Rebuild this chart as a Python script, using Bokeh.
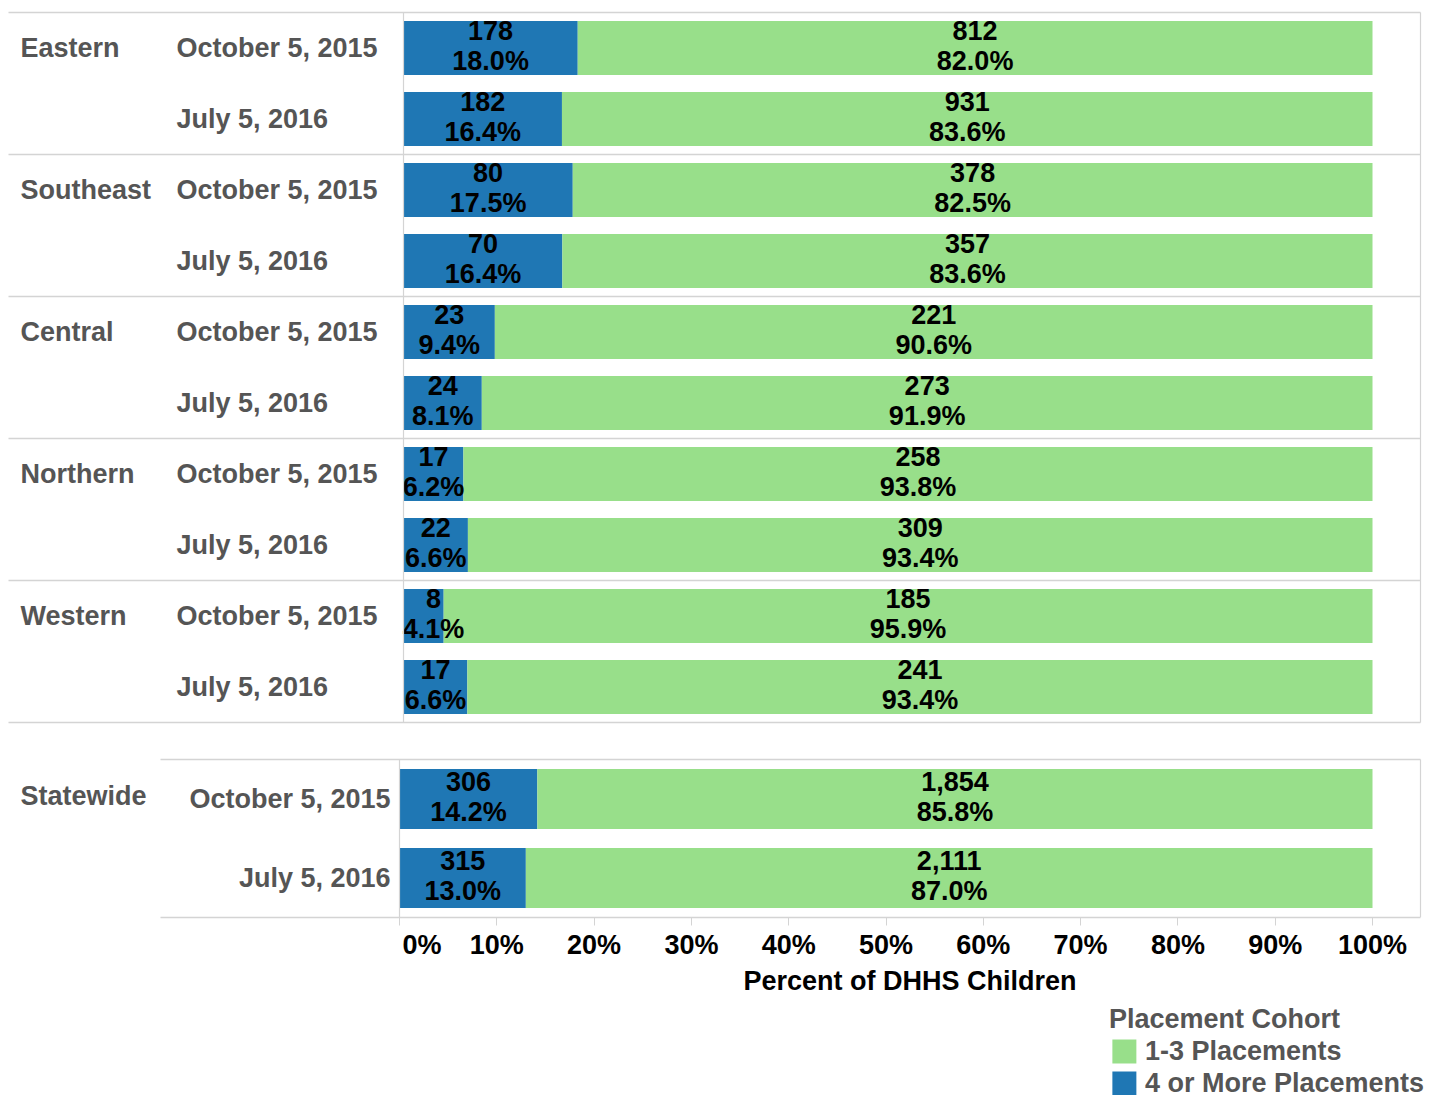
from bokeh.plotting import figure
from bokeh.models import (Range1d, FixedTicker, NumeralTickFormatter, Legend,
                          LegendItem, Title, ColumnDataSource)
from bokeh.layouts import column
from bokeh.embed import file_html
from bokeh.resources import INLINE
from bokeh.core.properties import value
import numpy as np

# ---------------- data ----------------
regions = ["Eastern", "Southeast", "Central", "Northern", "Western"]
dates = ["October 5, 2015", "July 5, 2016"]
four_plus = [178, 182, 80, 70, 23, 24, 17, 22, 8, 17]
one_to_three = [812, 931, 378, 357, 221, 273, 258, 309, 185, 241]
state_label = "Statewide"
state_four_plus = [306, 315]
state_one_to_three = [1854, 2111]
tick_values = [0.0, 0.1, 0.2, 0.3, 0.4, 0.5, 0.6, 0.7, 0.8, 0.9, 1.0]
series_names = ["1-3 Placements", "4 or More Placements"]
axis_title = "Percent of DHHS Children"
legend_title = "Placement Cohort"

# ---------------- style ----------------
BLUE = "#1f77b4"
GREEN = "#98df8a"
GRAY_TXT = "#555555"
LINE = "#d4d4d4"
FONT = value("Liberation Sans")
FS = "27px"
BAR_H = 0.76
W = 1424


def shares(a, b):
    a = np.array(a, dtype=float)
    b = np.array(b, dtype=float)
    t = a + b
    return a / t, b / t


def labels(counts, sh):
    return [f"{c:,}\n{s*100:.1f}%" for c, s in zip(counts, sh)]


def add_bars(p, y, c4, c13, min_mid):
    s4, s13 = shares(c4, c13)
    src = ColumnDataSource(dict(
        y=y, s4=s4, one=np.ones(len(y)),
        mid4=np.maximum(s4 / 2, min_mid),
        mid13=s4 + s13 / 2,
        lab4=labels(c4, s4), lab13=labels(c13, s13)))
    rb = p.hbar(y="y", left=0, right="s4", height=BAR_H, source=src,
                fill_color=BLUE, line_color=None)
    rg = p.hbar(y="y", left="s4", right="one", height=BAR_H, source=src,
                fill_color=GREEN, line_color=None)
    for xcol, tcol in (("mid4", "lab4"), ("mid13", "lab13")):
        p.text(x=xcol, y="y", text=tcol, source=src, text_align="center",
               text_baseline="middle", text_font=FONT, text_font_size=FS,
               text_font_style="bold", text_color="black",
               text_line_height=0.97, y_offset=-2)
    return rb, rg


# ---------------- top panel (regions) ----------------
X0T, SCT = 403.0, 969.0          # pixel of 0% and pixels per 100%
ROW_T = 71.0
TOP_H = 726
def xt(px):
    return (px - X0T) / SCT

n_rows = len(regions) * len(dates)
y_top = np.arange(n_rows)
p1 = figure(width=W, height=TOP_H, output_backend="svg", toolbar_location=None,
            x_range=Range1d(xt(0), xt(W)),
            y_range=Range1d((TOP_H - 47.5) / ROW_T, (0 - 47.5) / ROW_T),
            x_axis_location=None, y_axis_location=None,
            min_border_left=0, min_border_right=0,
            min_border_top=0, min_border_bottom=0)
p1.outline_line_color = None
p1.grid.visible = False

add_bars(p1, y_top, four_plus, one_to_three, 30 / SCT)

bounds = np.arange(len(regions) + 1) * len(dates) - 0.5
p1.segment(x0=xt(8), x1=xt(1420), y0=bounds, y1=bounds,
           line_color=LINE, line_width=1.5)
p1.segment(x0=[0, xt(1420)], x1=[0, xt(1420)], y0=bounds[0], y1=bounds[-1],
           line_color=LINE, line_width=1.2)

p1.text(x=xt(0), y=y_top[::len(dates)], text=regions, x_offset=20,
        text_align="left", text_baseline="middle", text_font=FONT,
        text_font_size=FS, text_font_style="bold", text_color=GRAY_TXT)
p1.text(x=xt(0), y=y_top, text=dates * len(regions), x_offset=176,
        text_align="left", text_baseline="middle", text_font=FONT,
        text_font_size=FS, text_font_style="bold", text_color=GRAY_TXT)

# ---------------- bottom panel (statewide) ----------------
X0B, SCB = 399.0, 973.0
ROW_B = 79.0
BOT_H = 274
def xb(px):
    return (px - X0B) / SCB

y_bot = np.arange(len(dates))
p2 = figure(width=W, height=BOT_H, output_backend="svg", toolbar_location=None,
            x_range=Range1d(xb(0), xb(W)),
            y_range=Range1d((917 - 798.5) / ROW_B, (756 - 798.5) / ROW_B),
            x_axis_location="below", y_axis_location=None,
            min_border_left=0, min_border_right=0,
            min_border_top=30, min_border_bottom=83)
p2.outline_line_color = None
p2.grid.visible = False

rb, rg = add_bars(p2, y_bot, state_four_plus, state_one_to_three, 30 / SCB)

p2.segment(x0=xb(160), x1=xb(1420), y0=-0.5, y1=-0.5,
           line_color=LINE, line_width=1.5)
p2.segment(x0=[0, xb(1420)], x1=[0, xb(1420)], y0=-0.5, y1=1.5,
           line_color=LINE, line_width=1.2)

p2.text(x=xb(0), y=[y_bot[0]], text=[state_label], x_offset=20, y_offset=-3,
        text_align="left", text_baseline="middle", text_font=FONT,
        text_font_size=FS, text_font_style="bold", text_color=GRAY_TXT)
p2.text(x=0, y=y_bot, text=dates, x_offset=-9,
        text_align="right", text_baseline="middle", text_font=FONT,
        text_font_size=FS, text_font_style="bold", text_color=GRAY_TXT)

ax = p2.xaxis[0]
ax.ticker = FixedTicker(ticks=tick_values)
ax.formatter = NumeralTickFormatter(format="0%")
# first label sits to the right of its tick, as in the original
ax.major_label_overrides = {0: "\u00a0" * 6 + "0%"}
ax.bounds = (xb(160), xb(1420))
ax.axis_line_color = LINE
ax.axis_line_width = 1.5
ax.major_tick_line_color = LINE
ax.major_tick_out = 8
ax.major_tick_in = 0
ax.minor_tick_line_color = None
ax.major_label_standoff = 4
ax.major_label_text_font = "Liberation Sans"
ax.major_label_text_font_size = FS
ax.major_label_text_font_style = "bold"
ax.major_label_text_color = "black"

p2.add_layout(Title(text=axis_title, align="left", offset=743, standoff=2,
                    text_font="Liberation Sans", text_font_size=FS,
                    text_font_style="bold", text_color="black"), "below")

# ---------------- legend strip ----------------
LEG_H = 95
p3 = figure(width=W, height=LEG_H, output_backend="svg", toolbar_location=None,
            x_range=Range1d(0, 1), y_range=Range1d(0, 1),
            x_axis_location=None, y_axis_location=None,
            min_border_left=0, min_border_right=0,
            min_border_top=4, min_border_bottom=0)
p3.outline_line_color = None
p3.grid.visible = False
# legend proxies (no visible data; only their styles are used by the legend)
proxy = ColumnDataSource(dict(y=[np.nan], l=[np.nan], r=[np.nan]))
lg = p3.hbar(y="y", left="l", right="r", height=0.5, source=proxy,
             fill_color=GREEN, line_color=None)
lb = p3.hbar(y="y", left="l", right="r", height=0.5, source=proxy,
             fill_color=BLUE, line_color=None)
legend = Legend(items=[LegendItem(label=series_names[0], renderers=[lg]),
                       LegendItem(label=series_names[1], renderers=[lb])],
                title=legend_title, location="top_right", margin=0, padding=0,
                spacing=0, glyph_width=30, glyph_height=30, label_standoff=6,
                label_height=32, title_standoff=0,
                border_line_color=None, background_fill_alpha=0,
                title_text_font="Liberation Sans", title_text_font_size=FS,
                title_text_font_style="bold", title_text_color=GRAY_TXT,
                label_text_font="Liberation Sans", label_text_font_size=FS,
                label_text_font_style="bold", label_text_color=GRAY_TXT)
p3.add_layout(legend)

layout = column(p1, p2, p3, spacing=0)
open("out.html", "w").write(file_html(layout, INLINE))
